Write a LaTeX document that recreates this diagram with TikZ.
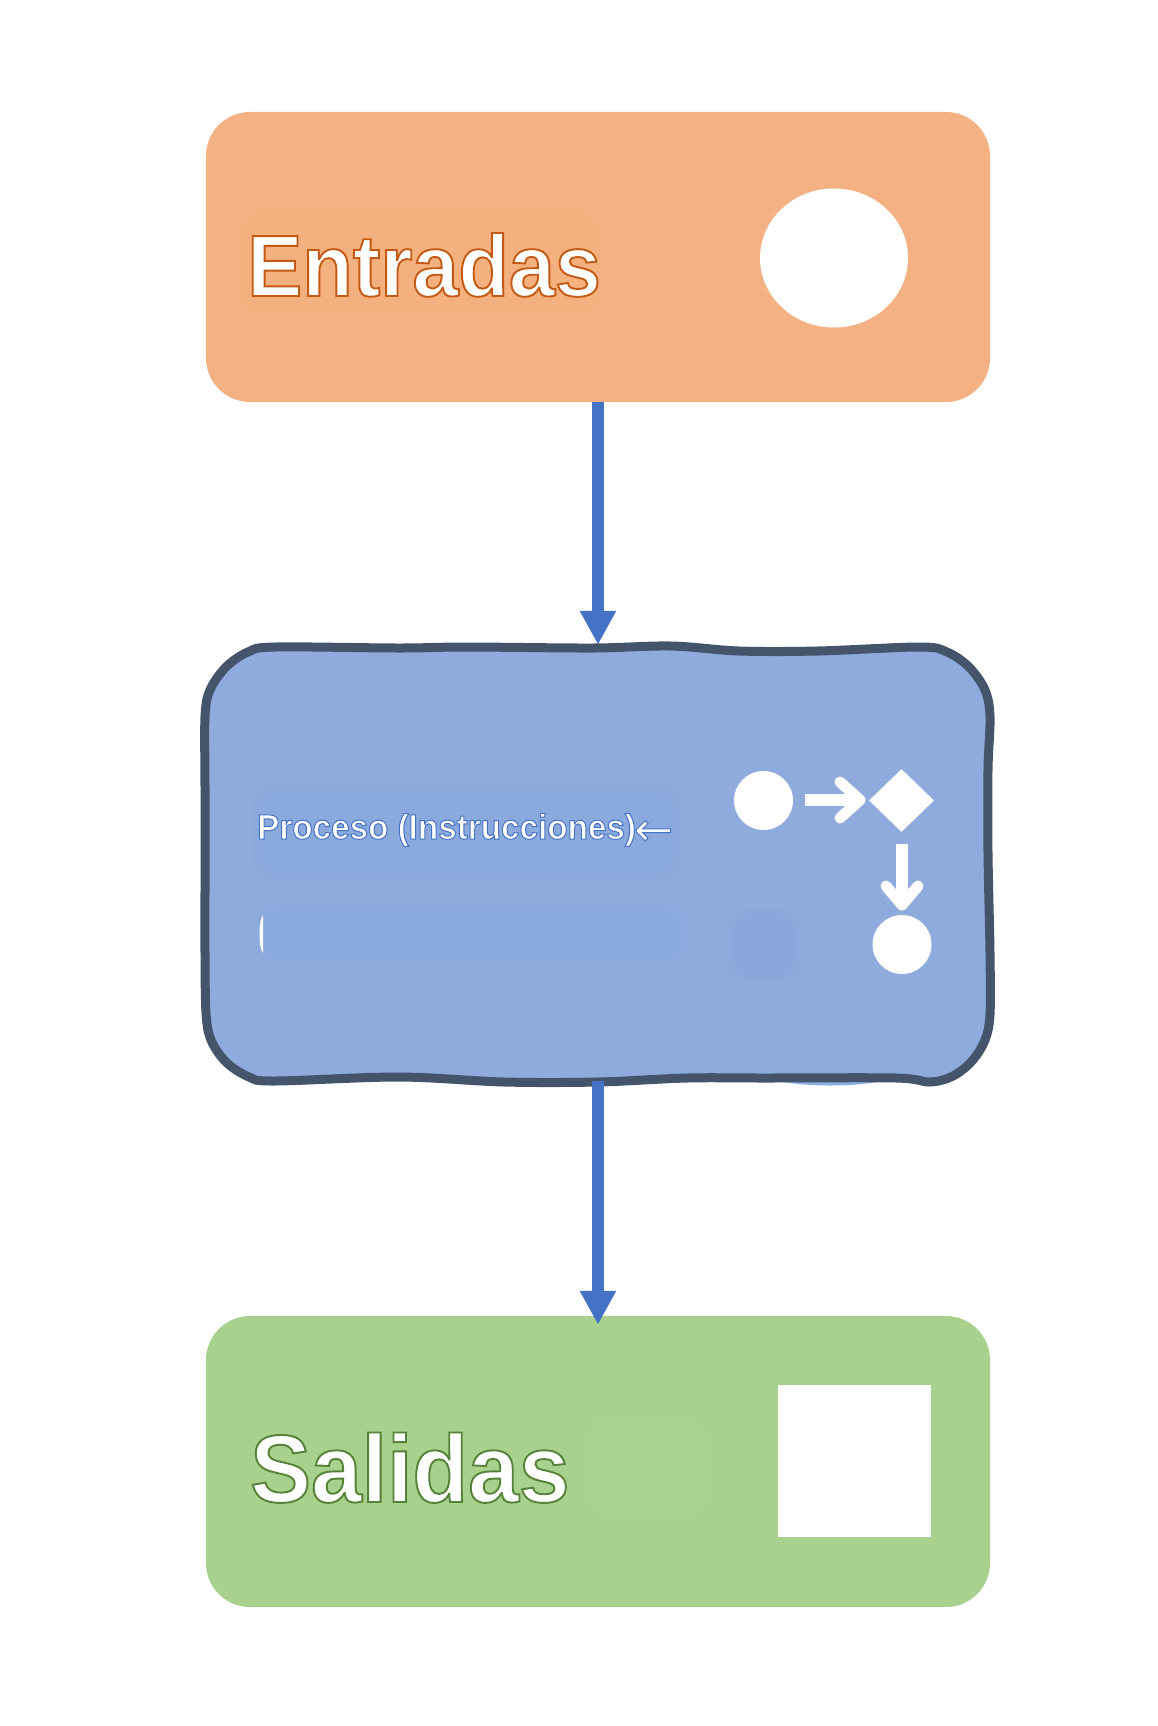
\documentclass[tikz,border=0pt]{standalone}
\usepackage{fontspec}
\setmainfont{Liberation Sans}
\newfontfamily\heavylabel[FakeStretch=0.95]{Liberation Sans Bold}
\newfontfamily\arrowglyph{DejaVu Sans}
\usetikzlibrary{arrows.meta,shapes.geometric}
\definecolor{orangebox}{HTML}{F4B183}
\definecolor{bluebox}{HTML}{8FAADC}
\definecolor{greenbox}{HTML}{A9D18E}
\definecolor{linkblue}{HTML}{4472C4}
\definecolor{rimdark}{HTML}{44546A}
\definecolor{smudgeo}{HTML}{F4B27F}
\definecolor{smudgea}{HTML}{8AA9DF}
\definecolor{smudgeb}{HTML}{8AAFE4}
\definecolor{smudgec}{HTML}{8AA6DA}
\definecolor{smudgeg}{HTML}{AFD498}
\newcommand{\outltext}[3]{\special{pdf:code q 2 Tr #2 w #1 RG 1 1 1 rg}#3\special{pdf:code Q}}
\tikzset{
  panel/.style={rounded corners=44bp,minimum width=784bp,inner sep=0pt,draw=none},
  glyphshape/.style={fill=white,draw=none,inner sep=0pt},
  label/.style={anchor=base west,inner sep=0pt,text=white},
  link/.style={draw=linkblue,line width=11.5bp,-{Triangle[length=34bp,width=34bp]}},
  whitearrow/.style={draw=white,line width=12bp},
  whitehead/.style={draw=white,line width=11bp,line cap=round,line join=round},
  hook/.style={inner sep=0pt,minimum size=0pt,draw=none}
}
\newcommand{\smudge}[5]{% x1 y1 x2 y2 colour
  \foreach \k in {0,...,9}{
    \fill[#5,opacity=.14,rounded corners=20bp]
      ({#1-12+2.6*\k},{#2-12+2.6*\k}) rectangle ({#3+12-2.6*\k},{#4+12-2.6*\k});
  }}
\def\wobble{plot[smooth cycle,tension=0.55] coordinates {
    (275,647) (399,648) (467,647) (593,648) (671,646) (739,651) (818,651) (920,647)
    (947,652) (969,667) (985,690) (990,717) (988,770) (988,853) (990,953) (990,1014)
    (985,1040) (972,1061) (953,1076) (930,1082) (896,1078) (765,1078) (687,1078) (598,1082) (504,1082)
    (399,1077) (275,1081) (249,1077) (226,1062) (211,1040) (206,1013) (205,953) (205,887) (205,787) (205,717)
    (210,690) (226,667) (248,652)}}
\begin{document}
\begin{tikzpicture}[x=1bp,y=-1bp]
\useasboundingbox (0,0) rectangle (1157,1726);
\fill[white] (0,0) rectangle (1157,1726);

% Entradas panel
\node[panel,fill=orangebox,minimum height=290bp] (entradas) at (598,257) {};
\smudge{250}{220}{590}{305}{smudgeo}
\node[ellipse,glyphshape,minimum width=148bp,minimum height=139bp] (inputicon) at (834,258) {};
\node[label,font=\fontsize{87bp}{87bp}\selectfont\heavylabel] (entradastext) at (247,296)
  {\outltext{0.77 0.35 0.07}{1.9}{Entradas}};

% Proceso panel
\node[hook,minimum width=784bp,minimum height=436bp] (proceso) at (598,863) {};
\fill[bluebox] \wobble;
\fill[white] (979,1050) .. controls (976,1062) and (958,1078) .. (935,1078) -- (955,1082) -- (982,1062) -- cycle;
\fill[smudgeb] (765,1078) .. controls (800,1088) and (860,1088) .. (896,1078) -- cycle;
\smudge{262}{795}{670}{870}{smudgea}
\smudge{266}{912}{680}{955}{smudgeb}
\smudge{738}{918}{790}{972}{smudgec}
\draw[rimdark,line width=9bp] \wobble;
\fill[white] (259.5,934) .. controls (259.5,926) and (260,920) .. (263,915) -- (263,953) .. controls (260,948) and (259.5,942) .. (259.5,934) -- cycle;
\node[label,font=\fontsize{35bp}{35bp}\selectfont\heavylabel] (procesotext) at (257,839)
  {\outltext{0.27 0.45 0.77}{1}{Proceso (Instrucciones)\raisebox{-6.5bp}{\fontsize{47bp}{47bp}\selectfont\arrowglyph\hspace{-2bp}←}}};

\node[circle,glyphshape,minimum size=59bp] (startdot) at (763.5,800.5) {};
\node[diamond,glyphshape,minimum width=65bp,minimum height=63bp] (choice) at (901.5,800.5) {};
\node[circle,glyphshape,minimum size=59bp] (enddot) at (902,944.5) {};
\coordinate (acrossfrom) at (804.5,800);
\coordinate (acrosstip) at (860,800);
\coordinate (downfrom) at (902,844);
\coordinate (downtip) at (902,905);
\draw[whitearrow] (acrossfrom) -- (acrosstip);
\draw[whitehead] ([shift={(-20,-18)}]acrosstip) -- (acrosstip) -- ([shift={(-20,18)}]acrosstip);
\draw[whitearrow] (downfrom) -- (downtip);
\draw[whitehead] ([shift={(-16,-19)}]downtip) -- (downtip) -- ([shift={(16,-19)}]downtip);

% Salidas panel
\node[panel,fill=greenbox,minimum height=291bp] (salidas) at (598,1461.5) {};
\smudge{600}{1430}{695}{1505}{smudgeg}
\node[rectangle,glyphshape,minimum width=152.5bp,minimum height=152bp] (outputicon) at (854.5,1461) {};
\node[label,font=\fontsize{96bp}{96bp}\selectfont\heavylabel] (salidastext) at (250,1502)
  {\outltext{0.33 0.51 0.21}{1.9}{Salidas}};

% Connectors
\draw[link] (entradas.south) -- (proceso.north);
\draw[link,shorten >=-9bp] (proceso.south) -- (salidas.north);
\end{tikzpicture}
\end{document}
